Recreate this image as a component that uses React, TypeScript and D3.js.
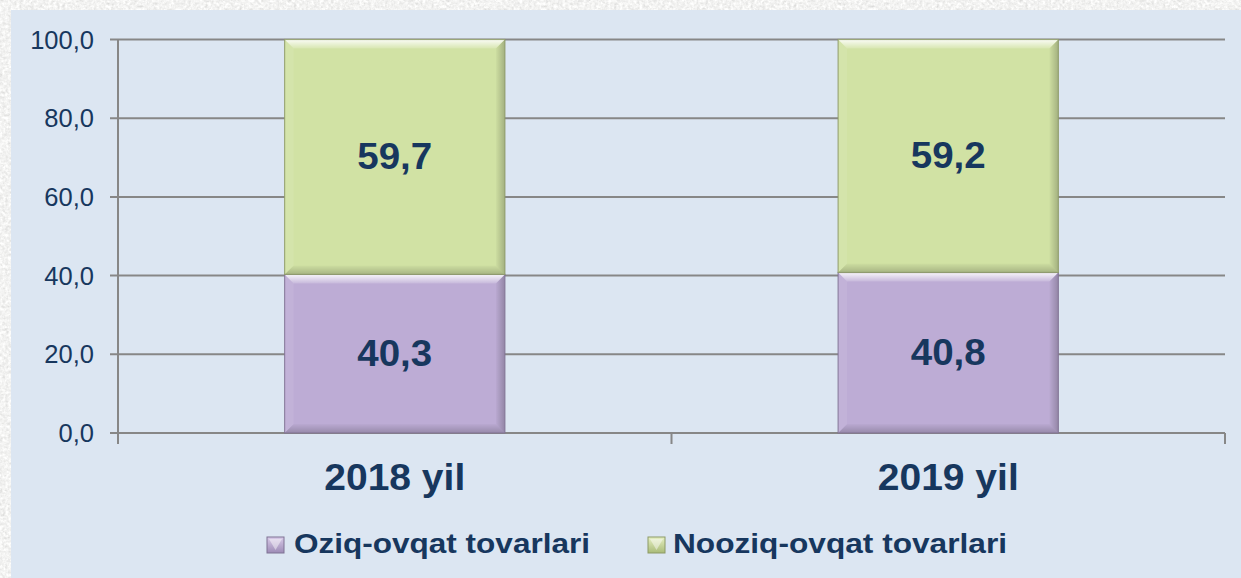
import React from "react";
import * as d3 from "d3";

const categories = ["2018 yil", "2019 yil"];
const seriesNames = ["Oziq-ovqat tovarlari", "Nooziq-ovqat tovarlari"];
const foodValues = [40.3, 40.8];
const nonFoodValues = [59.7, 59.2];
const yTicks = [0, 20, 40, 60, 80, 100];

const W = 1241;
const H = 578;
const TEXT = "#17375e";
const FONT = "'Liberation Sans', Arial, sans-serif";
const colors = { food: "#bdacd5", nonFood: "#d1e2a4" };
const edgeColors = { food: "#7f7294", nonFood: "#8c9a66" };

function fmt(v: number) {
  return v.toFixed(1).replace(".", ",");
}

function BevelRect({ x, y, w, h, fill, edge, id }: any) {
  const b = 9;
  const x1 = x + w;
  const y1 = y + h;
  return (
    <g>
      <rect x={x} y={y} width={w} height={h} fill={fill} />
      <polygon
        points={`${x},${y} ${x1},${y} ${x1 - b},${y + b} ${x + b},${y + b}`}
        fill={`url(#top-${id})`}
      />
      <polygon
        points={`${x},${y} ${x + b},${y + b} ${x + b},${y1 - b} ${x},${y1}`}
        fill="#ffffff"
        opacity={0.08}
      />
      <polygon
        points={`${x1},${y} ${x1},${y1} ${x1 - b},${y1 - b} ${x1 - b},${y + b}`}
        fill="url(#right)"
      />
      <polygon
        points={`${x},${y1} ${x1},${y1} ${x1 - b},${y1 - b} ${x + b},${y1 - b}`}
        fill="url(#bottom)"
      />
      <rect x={x} y={y} width={w} height={h} fill="none" stroke={edge} strokeWidth={1.2} strokeOpacity={0.8} />
    </g>
  );
}

export default function App() {
  const panel = { x: 11, y: 10 };
  const plot = { left: 118, right: 1225, top: 39.5, bottom: 433 };

  const x = d3.scaleBand<string>().domain(categories).range([plot.left, plot.right]).padding(0);
  const y = d3.scaleLinear().domain([0, 100]).range([plot.bottom, plot.top]);
  const barW = x.bandwidth() * 0.398;

  const stacked = d3.stack<any>().keys(["food", "nonFood"])(
    categories.map((c, i) => ({ cat: c, food: foodValues[i], nonFood: nonFoodValues[i] }))
  );

  return (
    <div style={{ position: "fixed", left: 0, top: 0, margin: 0 }}>
      <svg width={W} height={H} style={{ display: "block" }}>
        <defs>
          <filter id="noise" x="0" y="0" width="100%" height="100%">
            <feTurbulence type="fractalNoise" baseFrequency="0.35" numOctaves="3" seed="3" result="t" />
            <feColorMatrix
              in="t"
              type="matrix"
              values="0.33 0.33 0.33 0 0  0.33 0.33 0.33 0 0  0.33 0.33 0.33 0 0  0 0 0 0 1"
            />
            <feComponentTransfer>
              <feFuncR type="linear" slope="0.7" intercept="0.55" />
              <feFuncG type="linear" slope="0.7" intercept="0.55" />
              <feFuncB type="linear" slope="0.7" intercept="0.54" />
            </feComponentTransfer>
          </filter>
          <linearGradient id="top-food" x1="0" y1="0" x2="0" y2="1">
            <stop offset="0" stopColor="#ffffff" stopOpacity={0.9} />
            <stop offset="1" stopColor="#ffffff" stopOpacity={0.15} />
          </linearGradient>
          <linearGradient id="top-nonFood" x1="0" y1="0" x2="0" y2="1">
            <stop offset="0" stopColor="#ffffff" stopOpacity={0.9} />
            <stop offset="1" stopColor="#ffffff" stopOpacity={0.15} />
          </linearGradient>
          <linearGradient id="right" x1="0" y1="0" x2="1" y2="0">
            <stop offset="0" stopColor="#000000" stopOpacity={0.02} />
            <stop offset="1" stopColor="#000000" stopOpacity={0.22} />
          </linearGradient>
          <linearGradient id="bottom" x1="0" y1="0" x2="0" y2="1">
            <stop offset="0" stopColor="#000000" stopOpacity={0.02} />
            <stop offset="1" stopColor="#000000" stopOpacity={0.2} />
          </linearGradient>
          <linearGradient id="leg-food" x1="0" y1="0" x2="0" y2="1">
            <stop offset="0" stopColor="#d9cbe9" />
            <stop offset="1" stopColor="#9d8bb6" />
          </linearGradient>
          <linearGradient id="leg-nonFood" x1="0" y1="0" x2="0" y2="1">
            <stop offset="0" stopColor="#e6f0c4" />
            <stop offset="1" stopColor="#a9bb78" />
          </linearGradient>
        </defs>

        <rect x={0} y={0} width={W} height={H} fill="#e8e8e6" filter="url(#noise)" />
        <rect x={panel.x} y={panel.y} width={W - panel.x} height={H - panel.y} fill="#dce6f2" />

        {/* gridlines */}
        {yTicks.map((t) => (
          <line
            key={"g" + t}
            x1={plot.left - 8}
            x2={plot.right}
            y1={y(t)}
            y2={y(t)}
            stroke="#878787"
            strokeWidth={2}
          />
        ))}
        {/* y axis */}
        <line x1={plot.left} x2={plot.left} y1={plot.top} y2={plot.bottom + 11} stroke="#878787" strokeWidth={2} />
        {/* category ticks */}
        {categories.map((c) => (
          <line
            key={"ct" + c}
            x1={(x(c) as number) + x.bandwidth()}
            x2={(x(c) as number) + x.bandwidth()}
            y1={plot.bottom}
            y2={plot.bottom + 11}
            stroke="#878787"
            strokeWidth={2}
          />
        ))}
        {yTicks.map((t) => (
          <text
            key={"yl" + t}
            x={94}
            y={y(t)}
            textAnchor="end"
            dominantBaseline="central"
            fontFamily={FONT}
            fontSize={25.5}
            fill={TEXT}
          >
            {fmt(t)}
          </text>
        ))}

        {/* bars */}
        {stacked.map((series) =>
          series.map((d: any, i: number) => {
            const cx = (x(categories[i]) as number) + x.bandwidth() / 2;
            const y0 = y(d[1]);
            const y1 = y(d[0]);
            const key = series.key as "food" | "nonFood";
            return (
              <g key={key + i}>
                <BevelRect
                  x={cx - barW / 2}
                  y={y0}
                  w={barW}
                  h={y1 - y0}
                  fill={colors[key]}
                  edge={edgeColors[key]}
                  id={key}
                />
                <text
                  x={cx}
                  y={(y0 + y1) / 2}
                  textAnchor="middle"
                  dominantBaseline="central"
                  fontFamily={FONT}
                  fontWeight="bold"
                  fontSize={37}
                  fill={TEXT}
                  textLength={75}
                  lengthAdjust="spacingAndGlyphs"
                >
                  {fmt(d[1] - d[0])}
                </text>
              </g>
            );
          })
        )}

        {/* category labels */}
        {categories.map((c) => (
          <text
            key={"cl" + c}
            x={(x(c) as number) + x.bandwidth() / 2}
            y={490}
            textAnchor="middle"
            fontFamily={FONT}
            fontWeight="bold"
            fontSize={37}
            fill={TEXT}
            textLength={141}
            lengthAdjust="spacingAndGlyphs"
          >
            {c}
          </text>
        ))}

        {/* legend */}
        {seriesNames.map((name, i) => {
          const key = i === 0 ? "food" : "nonFood";
          const mx = i === 0 ? 267 : 648;
          const tx = i === 0 ? 294 : 673;
          const tl = i === 0 ? 296 : 334;
          return (
            <g key={"lg" + i}>
              <rect x={mx} y={537} width={17} height={16} fill={`url(#leg-${key})`} stroke={edgeColors[key]} strokeWidth={1} />
              <polygon
                points={`${mx + 2},${539} ${mx + 15},${539} ${mx + 8.5},${550}`}
                fill="#ffffff"
                opacity={0.45}
              />
              <text
                x={tx}
                y={553}
                fontFamily={FONT}
                fontWeight="bold"
                fontSize={28}
                fill={TEXT}
                textLength={tl}
                lengthAdjust="spacingAndGlyphs"
              >
                {name}
              </text>
            </g>
          );
        })}
      </svg>
    </div>
  );
}
